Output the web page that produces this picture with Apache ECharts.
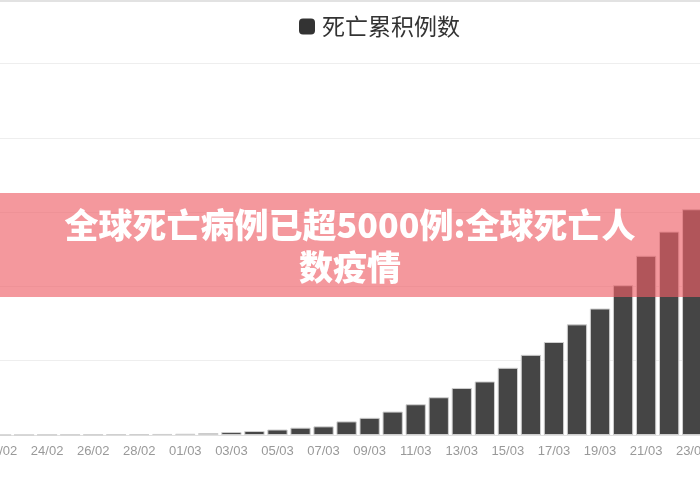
<!DOCTYPE html>
<html>
<head>
<meta charset="utf-8">
<title>死亡累积例数</title>
<script src="https://cdn.jsdelivr.net/npm/echarts@6/dist/echarts.min.js"></script>
<style>
    html, body { margin: 0; padding: 0; background: #fff; }
    #main { width: 700px; height: 490px; }
</style>
</head>
<body>
<div id="main"></div>
<script>
// 日期（横轴）
let days = ['22/02', '23/02', '24/02', '25/02', '26/02', '27/02', '28/02', '29/02',
    '01/03', '02/03', '03/03', '04/03', '05/03', '06/03', '07/03', '08/03', '09/03',
    '10/03', '11/03', '12/03', '13/03', '14/03', '15/03', '16/03', '17/03', '18/03',
    '19/03', '20/03', '21/03', '22/03', '23/03']
// 死亡累积例数
let deaths = [2, 3, 7, 10, 12, 17, 21, 29,
    34, 52, 79, 107, 148, 197, 233, 366, 463,
    631, 827, 1016, 1266, 1441, 1809, 2158, 2503, 2978,
    3405, 4032, 4825, 5476, 6077]
// 纵轴刻度
let yMax = 10000
let yStep = 2000
let seriesName = '死亡累积例数'
let bannerText = '全球死亡病例已超5000例:全球死亡人\n数疫情'

let myChart = echarts.init(document.getElementById('main'))
let option = {
    animation: false,
    legend: {
        data: [seriesName],
        left: 299,
        top: 15,
        padding: 0,
        itemWidth: 16,
        itemHeight: 16,
        icon: 'roundRect',
        itemStyle: { color: '#333', borderWidth: 0 },
        textStyle: {
            color: '#333',
            fontSize: 23,
            fontFamily: 'Noto Sans CJK SC',
            padding: [0, 0, 0, 2]
        }
    },
    // 图表左右被裁掉一部分，网格故意超出画布
    grid: {
        left: -10.5,
        right: -3.7,
        top: 63.5,
        bottom: 55,
        containLabel: false,
        outerBoundsMode: 'none'
    },
    xAxis: {
        type: 'category',
        data: days,
        axisLine: { lineStyle: { color: '#e0e0e0' } },
        axisTick: {
            alignWithLabel: true,
            interval: 0,
            length: 6,
            lineStyle: { color: '#e0e0e0' }
        },
        axisLabel: {
            interval: 1,
            color: '#999',
            fontSize: 13,
            margin: 10,
            hideOverlap: false,
            fontFamily: 'Liberation Sans'
        }
    },
    yAxis: {
        type: 'value',
        min: 0,
        max: yMax,
        interval: yStep,
        axisLabel: { show: false },
        axisLine: { show: false },
        axisTick: { show: false },
        splitLine: { lineStyle: { color: '#eeeeee' } }
    },
    series: [
        {
            name: seriesName,
            type: 'bar',
            data: deaths,
            barCategoryGap: '12%',
            itemStyle: {
                color: '#454545',
                borderColor: '#cfcfcf',
                borderWidth: 1
            }
        }
    ],
    // 顶部细线和粉色标题横幅
    graphic: [
        {
            type: 'rect',
            z: 100,
            shape: { x: 0, y: 0, width: 700, height: 2 },
            style: { fill: '#e2e2e2' }
        },
        {
            type: 'rect',
            z: 100,
            shape: { x: 0, y: 193, width: 700, height: 104 },
            style: { fill: 'rgba(238,95,102,0.645)' }
        },
        {
            type: 'text',
            z: 101,
            x: 350,
            y: 246,
            style: {
                text: bannerText,
                fill: '#fff',
                font: '900 34px "Noto Sans CJK SC"',
                lineHeight: 42,
                align: 'center',
                verticalAlign: 'middle'
            }
        }
    ]
}
myChart.setOption(option)
</script>
</body>
</html>
